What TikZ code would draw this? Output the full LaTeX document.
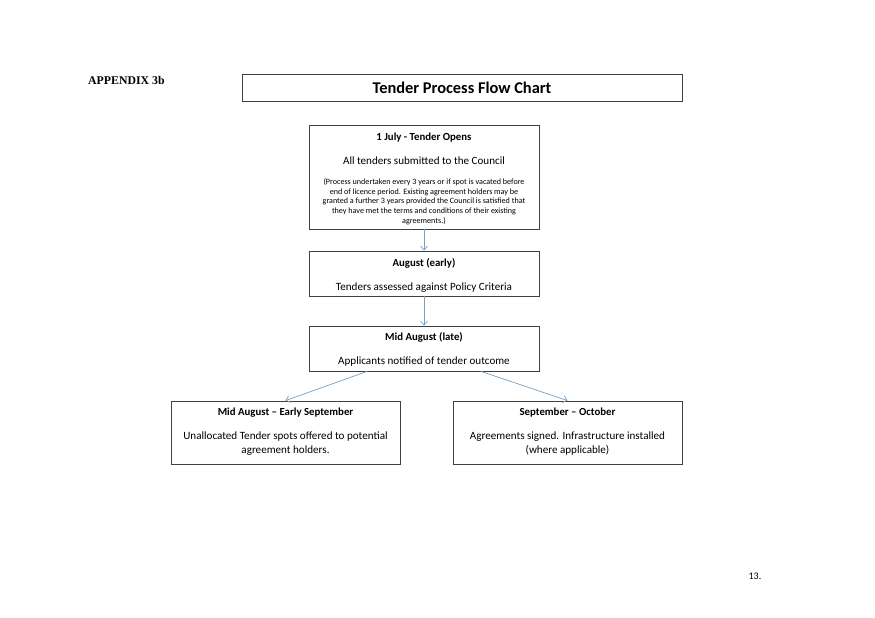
\documentclass[tikz,border=0pt]{standalone}
\usepackage{fontspec}
\setmainfont{Carlito}
\newfontfamily\timesf{Liberation Serif}
\usetikzlibrary{arrows.meta}
\definecolor{boxline}{RGB}{64,64,64}
\definecolor{arrowc}{RGB}{120,160,195}
\begin{document}
\begin{tikzpicture}[x=1pt,y=-1pt,
  box/.style={draw=boxline,line width=0.8pt,inner sep=0pt},
  head/.style={font=\fontsize{10.8}{12}\selectfont\bfseries,inner sep=0pt},
  body/.style={font=\fontsize{11.1}{14}\selectfont,inner sep=0pt,align=center},
  small/.style={font=\fontsize{8.1}{9.7}\selectfont,inner sep=0pt,align=center},
  conn/.style={draw=arrowc,line width=0.7pt,-{Straight Barb[length=4pt,width=7pt]}}]
\useasboundingbox (0,0) rectangle (875,618);
% header
\node[anchor=west,font=\timesf\fontsize{11.8}{13}\selectfont\bfseries,inner sep=0pt] (app) at (88,80) {APPENDIX 3b};
\node[box,minimum width=440pt,minimum height=27pt] (title) at (462,87.5) {};
\node[font=\fontsize{16.4}{18}\selectfont\bfseries,inner sep=0pt] (titletext) at (462,88) {Tender Process Flow Chart};
% box 1
\node[box,minimum width=230pt,minimum height=104pt] (b1) at (424,177) {};
\node[head] (b1h) at (424,137.5) {1 July - Tender Opens};
\node[body] (b1t) at (424,160.5) {All tenders submitted to the Council};
\node[small] (b1s) at (424,201.5) {(Process undertaken every 3 years or if spot is vacated before\\end of licence period. Existing agreement holders may be\\granted a further 3 years provided the Council is satisfied that\\they have met the terms and conditions of their existing\\agreements.)};
% box 2
\node[box,minimum width=230pt,minimum height=45pt] (b2) at (424,273.5) {};
\node[head] (b2h) at (424,263.5) {August (early)};
\node[body] (b2t) at (424,287.5) {Tenders assessed against Policy Criteria};
% box 3
\node[box,minimum width=230pt,minimum height=45pt] (b3) at (424,348.5) {};
\node[head] (b3h) at (424,337.5) {Mid August (late)};
\node[body] (b3t) at (424,361.5) {Applicants notified of tender outcome};
% box 4
\node[box,minimum width=229pt,minimum height=63pt] (b4) at (285.5,432.5) {};
\node[head] (b4h) at (285.5,412.5) {Mid August -- Early September};
\node[body] (b4t) at (285.5,443.5) {Unallocated Tender spots offered to potential\\agreement holders.};
% box 5
\node[box,minimum width=229pt,minimum height=63pt] (b5) at (567.5,432.5) {};
\node[head] (b5h) at (567.5,412.5) {September -- October};
\node[body] (b5t) at (567.5,443.5) {Agreements signed. Infrastructure installed\\(where applicable)};
% page number
\node[font=\fontsize{10}{12}\selectfont,inner sep=0pt] (pg) at (755,576) {13.};
% connectors
\draw[conn] (b1.south) -- (b2.north);
\draw[conn] (b2.south) -- (b3.north);
\draw[conn] ([xshift=-57pt]b3.south) -- (b4.north);
\draw[conn] ([xshift=57pt]b3.south) -- (b5.north);
\end{tikzpicture}
\end{document}
